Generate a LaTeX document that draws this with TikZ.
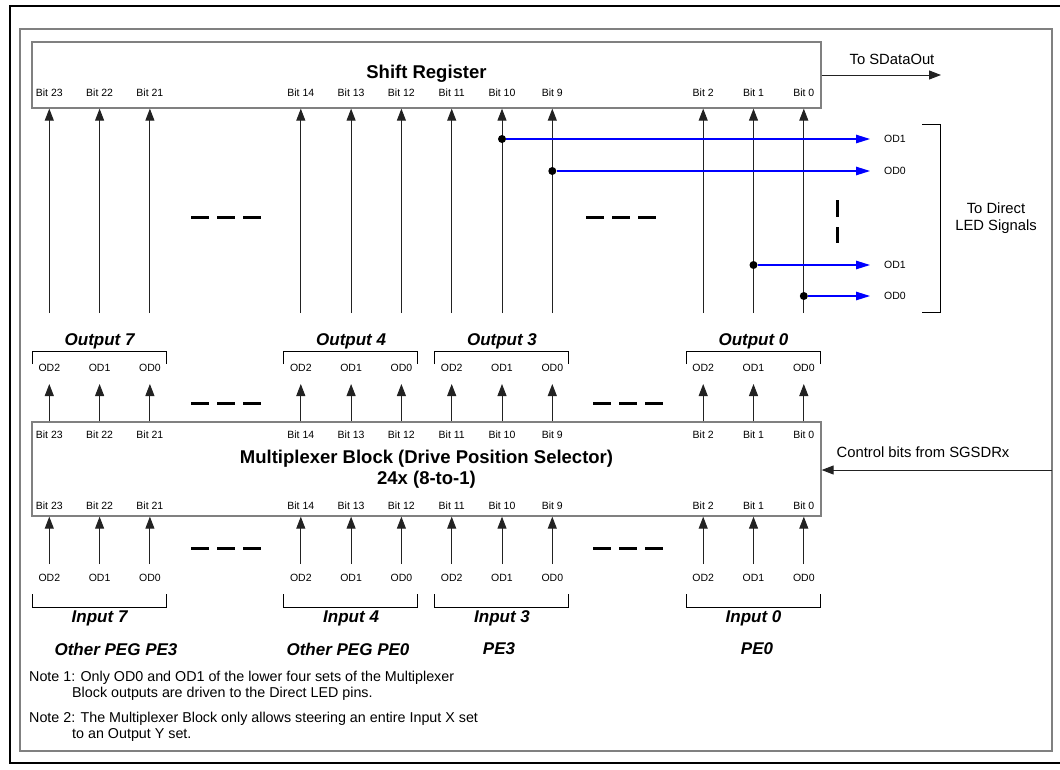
\documentclass[tikz,border=0pt]{standalone}
\usepackage{fontspec}
\setmainfont{Liberation Sans}
\usetikzlibrary{arrows.meta, positioning, calc}
\definecolor{wire}{HTML}{222222}
\definecolor{frame}{HTML}{808080}
\definecolor{tap}{HTML}{0000FF}
\tikzset{
  block/.style={rectangle, draw=frame, line width=1.3pt, inner sep=0pt},
  bitlbl/.style={font=\fontsize{10.5}{12}\selectfont, inner sep=1pt},
  title/.style={font=\fontsize{18.5}{20.5}\selectfont\bfseries, align=center},
  grplbl/.style={font=\fontsize{17}{20}\selectfont\bfseries\itshape},
  siglbl/.style={font=\fontsize{14.8}{17.5}\selectfont, align=center},
  notelbl/.style={font=\fontsize{14.3}{16}\selectfont, align=left, anchor=north west, inner sep=0pt},
  arrow/.style={-{Triangle[length=12pt,width=9pt]}, line width=1pt, color=wire},
  ledarrow/.style={-{Triangle[length=14pt,width=8.5pt]}, line width=1.3pt, color=tap},
  tapdot/.style={circle, fill=black, inner sep=0pt, minimum size=8pt},
  brk/.style={line width=1pt, color=black},
  skipdash/.style={line width=3pt, dash pattern=on 18pt off 8pt},
}

\begin{document}
\begin{tikzpicture}[x=1pt,y=-1pt]
  \useasboundingbox (0,0) rectangle (1060,769);
  % frames
  \draw[line width=2.8pt] (1065,6) -- (10,6) -- (10,763) -- (1065,763);
  \draw[frame, line width=1.2pt] (20,29) rectangle (1052,751);

  % blocks
  \node[block, minimum width=789pt, minimum height=66pt] (sreg) at (426.5,75) {};
  \node[title] (srtitle) at (426.5,74) {Shift Register};
  \node[block, minimum width=789pt, minimum height=94pt] (mux) at (426.5,469) {};
  \node[title] (muxtitle) at (426.5,469) {Multiplexer Block (Drive Position Selector)\\24x (8-to-1)};

  % bit columns
  \foreach \k/\b/\d in {0/23/2,1/22/1,2/21/0,5/14/2,6/13/1,7/12/0,8/11/2,9/10/1,10/9/0,13/2/2,14/1/1,15/0/0}{
    \pgfmathsetmacro\cx{49.3+50.3*\k}
    \node[bitlbl] (srb\b) at (\cx,93) {Bit \b};
    \coordinate (srf\b) at (\cx,313);
    \draw[arrow] (srf\b) -- (srf\b |- sreg.south);
    \node[bitlbl] (mxt\b) at (\cx,435) {Bit \b};
    \node[bitlbl] (mxb\b) at (\cx,506) {Bit \b};
    \node[bitlbl] (out\b) at (\cx,368) {OD\d};
    \coordinate (outtip\b) at (\cx,384);
    \draw[arrow] (outtip\b |- mux.north) -- (outtip\b);
    \node[bitlbl] (in\b) at (\cx,578) {OD\d};
    \coordinate (inft\b) at (\cx,564);
    \draw[arrow] (inft\b) -- (inft\b |- mux.south);
  }

  % output and input sets
  \foreach \k/\n/\src/\sx in {0/7/Other PEG PE3/116, 5/4/Other PEG PE0/348, 8/3/PE3/499, 13/0/PE0/757}{
    \pgfmathsetmacro\xa{49.3+50.3*\k-17}
    \pgfmathsetmacro\xb{49.3+50.3*(\k+2)+16.5}
    \pgfmathsetmacro\xm{49.3+50.3*(\k+1)}
    \draw[brk] (\xa,364) |- (\xb,351) -- (\xb,364);
    \draw[brk] (\xa,594) |- (\xb,607) -- (\xb,594);
    \node[grplbl] (outset\n) at (\xm,341) {Output \n};
    \node[grplbl] (inset\n) at (\xm,618) {Input \n};
    \node[grplbl] (pe\n) at (\sx,649) {\src};
  }

  % skipped bits
  \foreach \y/\xr in {217/586, 403/593, 548/593}{
    \draw[skipdash] (191,\y) -- (261,\y);
    \draw[skipdash] (\xr,\y) -- (\xr+70,\y);
  }
  \draw[skipdash, dash pattern=on 17pt off 10pt] (837,200) -- (837,243);

  % direct LED taps
  \foreach \k/\y/\lbl/\t in {9/139/OD1/a, 10/171/OD0/b, 14/265/OD1/c, 15/296/OD0/d}{
    \pgfmathsetmacro\cx{49.3+50.3*\k}
    \node[tapdot] (tap\t) at (\cx,\y) {};
    \node[bitlbl, anchor=west, inner xsep=14pt] (led\t) at (870,\y) {\lbl};
    \draw[ledarrow] (tap\t) -- (led\t.west);
  }
  \draw[brk] (922,124) -| (940,312) -- (922,312);
  \node[siglbl] (ledsig) at (996,218) {To Direct\\LED Signals};

  \coordinate (sdout) at (941,75);
  \draw[arrow] (sreg.east) -- (sdout);
  \node[siglbl] (sdlbl) at (892,59) {To SDataOut};

  \coordinate (ctlin) at (1052,470);
  \draw[arrow] (ctlin) -- (ctlin -| mux.east);
  \node[siglbl] (ctllbl) at (923,452) {Control bits from SGSDRx};

  % notes
  \node[notelbl] (note1) at (29,671) {Note 1: Only OD0 and OD1 of the lower four sets of the Multiplexer\\\hspace*{43pt}Block outputs are driven to the Direct LED pins.};
  \node[notelbl] (note2) at (29,712) {Note 2: The Multiplexer Block only allows steering an entire Input X set\\\hspace*{43pt}to an Output Y set.};
\end{tikzpicture}
\end{document}
